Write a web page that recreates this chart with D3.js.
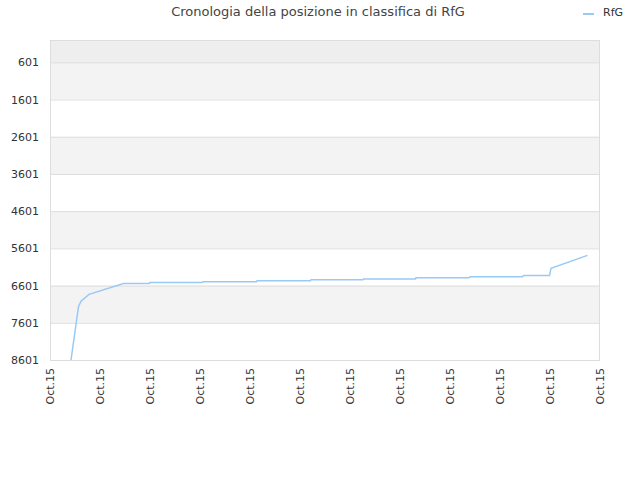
<!DOCTYPE html>
<html><head><meta charset="utf-8">
<script src="https://cdn.jsdelivr.net/npm/d3@7"></script>
<style>body{margin:0;background:#fff}text{font-family:"DejaVu Sans",sans-serif}</style>
</head><body><div id="chart"></div>
<script>
// data
var tickLabels = ["Oct.15","Oct.15","Oct.15","Oct.15","Oct.15","Oct.15","Oct.15","Oct.15","Oct.15","Oct.15","Oct.15","Oct.15"];
var yTicks = [601,1601,2601,3601,4601,5601,6601,7601,8601];
var times = [0.42,0.57,0.62,0.78,1.47,1.99,2.00,3.04,3.06,4.13,4.14,5.21,5.22,6.26,6.27,7.31,7.32,8.38,8.40,9.45,9.47,9.99,10.02,10.75];
var ranks = [8601,7170,7020,6837,6543,6543,6515,6515,6499,6499,6472,6472,6445,6445,6426,6426,6391,6391,6364,6364,6327,6327,6139,5790];

var W = 640, H = 480, L = 50, R = 600, T = 40, B = 360;
var svg = d3.select("#chart").append("svg").attr("width", W).attr("height", H);

var x = d3.scaleLinear().domain([0, 11]).range([L, R]);
var y = d3.scaleLinear().domain([1, 8601]).range([T, B]);

// alternating bands
var bands = [1].concat(yTicks);
for (var i = 0; i < bands.length - 1; i++) {
  var c = i === 0 ? "#eeeeee" : (i % 2 === 1 ? "#f3f3f3" : "#ffffff");
  svg.append("rect").attr("x", L).attr("y", y(bands[i])).attr("width", R - L)
    .attr("height", y(bands[i + 1]) - y(bands[i])).attr("fill", c);
}
svg.selectAll(".grid").data(yTicks).enter().append("line")
  .attr("x1", L).attr("x2", R).attr("y1", d => y(d) + 0.5).attr("y2", d => y(d) + 0.5)
  .attr("stroke", "#dddddd");
svg.append("rect").attr("x", L + 0.5).attr("y", T + 0.5).attr("width", R - L - 1).attr("height", B - T)
  .attr("fill", "none").attr("stroke", "#dddddd");

// y labels
svg.selectAll(".yl").data(yTicks).enter().append("text")
  .attr("x", L - 11).attr("y", d => y(d) + 4).attr("text-anchor", "end")
  .attr("font-size", 11).attr("fill", "#333").text(d => d);

// x labels
svg.selectAll(".xl").data(tickLabels).enter().append("text")
  .attr("transform", (d, i) => "translate(" + (x(i) + 4) + "," + (B + 8) + ") rotate(-90)")
  .attr("text-anchor", "end").attr("font-size", 11).attr("fill", "#333").text(d => d);

// line
var line = d3.line().x(d => x(d[0])).y(d => y(d[1]));
svg.append("path").datum(times.map((t, i) => [t, ranks[i]]))
  .attr("d", line).attr("fill", "none").attr("stroke", "#99c9f5").attr("stroke-width", 1.5);

// title + legend
svg.append("text").attr("x", 318).attr("y", 16).attr("text-anchor", "middle")
  .attr("font-size", 13).attr("fill", "#444").text("Cronologia della posizione in classifica di RfG");
svg.append("line").attr("x1", 583).attr("x2", 594).attr("y1", 14).attr("y2", 14)
  .attr("stroke", "#99c9f5").attr("stroke-width", 2);
svg.append("text").attr("x", 603).attr("y", 16).attr("font-size", 11).attr("fill", "#333").text("RfG");
</script></body></html>
